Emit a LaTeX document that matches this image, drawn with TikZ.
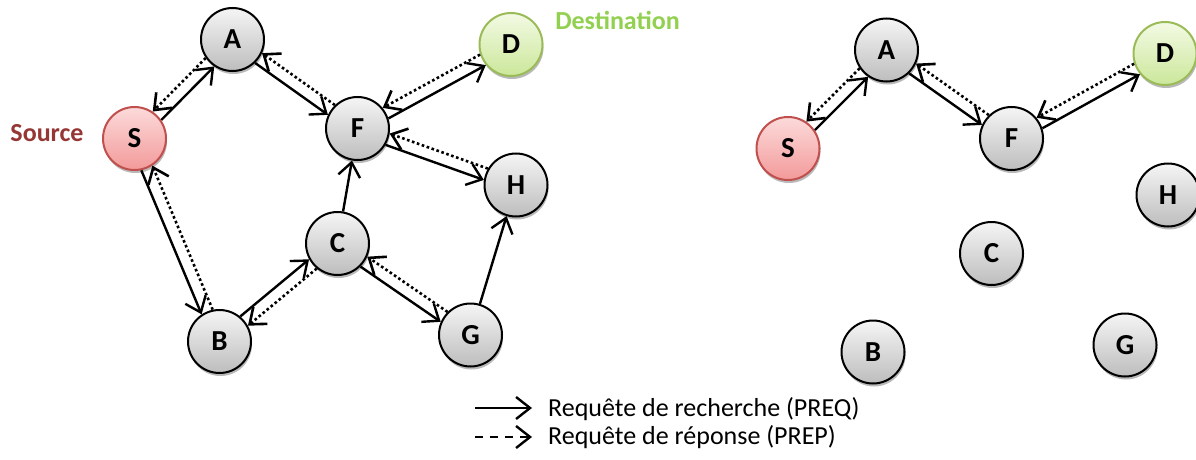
\documentclass[tikz,border=0pt]{standalone}
\usepackage{fontspec}
\setmainfont{Carlito}
\usetikzlibrary{arrows.meta,calc,shadows}
\definecolor{gtop}{HTML}{F5F5F5}
\definecolor{gbot}{HTML}{BDBDBD}
\definecolor{rtop}{HTML}{FCDADA}
\definecolor{rbot}{HTML}{F39A9A}
\definecolor{rbd}{HTML}{C0504D}
\definecolor{dtop}{HTML}{F3FAE4}
\definecolor{dbot}{HTML}{CBE79A}
\definecolor{dbd}{HTML}{9BBB59}
\definecolor{srccol}{HTML}{953735}
\definecolor{dstcol}{HTML}{92D050}
\tikzset{
  nd/.style={circle, draw=black, line width=2pt, minimum size=63pt, inner sep=0pt,
    top color=gtop, bottom color=gbot, font=\bfseries\fontsize{29}{32}\selectfont,
    drop shadow={shadow xshift=1pt, shadow yshift=-3pt, fill=black!55, opacity=0.5}},
  src/.style={nd, draw=rbd, top color=rtop, bottom color=rbot},
  dst/.style={nd, draw=dbd, top color=dtop, bottom color=dbot},
  tiphead/.style={-{Straight Barb[length=14pt,width=22pt]}},
  req/.style={line width=2.4pt, tiphead},
  rep/.style={line width=2.6pt, dash pattern=on 2.6pt off 2.6pt, tiphead},
  pr/.style={shorten <=32pt, shorten >=32pt},
  lbl/.style={font=\bfseries\fontsize{26}{30}\selectfont, inner sep=0pt},
  legtxt/.style={font=\fontsize{26}{30}\selectfont, inner sep=0pt, anchor=base west},
}
\newcommand\pairarr[3]{%
  \draw[req,pr] ($(#1)!#3!-90:(#2)$) -- ($(#2)!#3!90:(#1)$);
  \draw[rep,pr] ($(#2)!#3!-90:(#1)$) -- ($(#1)!#3!90:(#2)$);}
\begin{document}
\begin{tikzpicture}[x=1pt,y=-1pt]
\useasboundingbox (0,0) rectangle (1196,460);
% left graph
\node[nd]  (A) at (232.5,39.5) {A};
\node[src] (S) at (134.5,138.5) {S};
\node[nd]  (F) at (357.5,128.5) {F};
\node[dst] (D) at (511,44.5) {D};
\node[nd]  (H) at (516,185) {H};
\node[nd]  (C) at (337.5,243.5) {C};
\node[nd]  (B) at (219.5,341.5) {B};
\node[nd]  (G) at (470.5,335) {G};
\node[lbl, text=srccol] (srclbl) at (47,133.5) {Source};
\node[lbl, text=dstcol] (dstlbl) at (617.5,20.5) {Destination};
\pairarr{S}{A}{6pt}
\pairarr{A}{F}{6pt}
\pairarr{F}{D}{6pt}
\pairarr{F}{H}{6pt}
\pairarr{S}{B}{6pt}
\pairarr{B}{C}{-6pt}
\pairarr{C}{G}{6pt}
\draw[req] (C) -- (F);
\draw[req] (G) -- (H);
% right graph
\node[nd]  (A2) at (886.5,50) {A};
\node[src] (S2) at (788,148.5) {S};
\node[nd]  (F2) at (1011.5,138.5) {F};
\node[dst] (D2) at (1165,53.5) {D};
\node[nd]  (H2) at (1168,195) {H};
\node[nd]  (C2) at (991.5,253.5) {C};
\node[nd]  (B2) at (873,352) {B};
\node[nd]  (G2) at (1125,345) {G};
\pairarr{S2}{A2}{6pt}
\pairarr{A2}{F2}{6pt}
\pairarr{F2}{D2}{6pt}
% legend
\coordinate (l1a) at (475,408);
\coordinate (l1b) at (532,408);
\coordinate (l2a) at (475,437);
\coordinate (l2b) at (532,437);
\draw[req] (l1a) -- (l1b);
\draw[line width=2.4pt, dash pattern=on 8pt off 7pt, tiphead] (l2a) -- (l2b);
\node[legtxt] (t1) at (548,416) {Requête de recherche (PREQ)};
\node[legtxt] (t2) at (548,444) {Requête de réponse (PREP)};
\end{tikzpicture}
\end{document}
